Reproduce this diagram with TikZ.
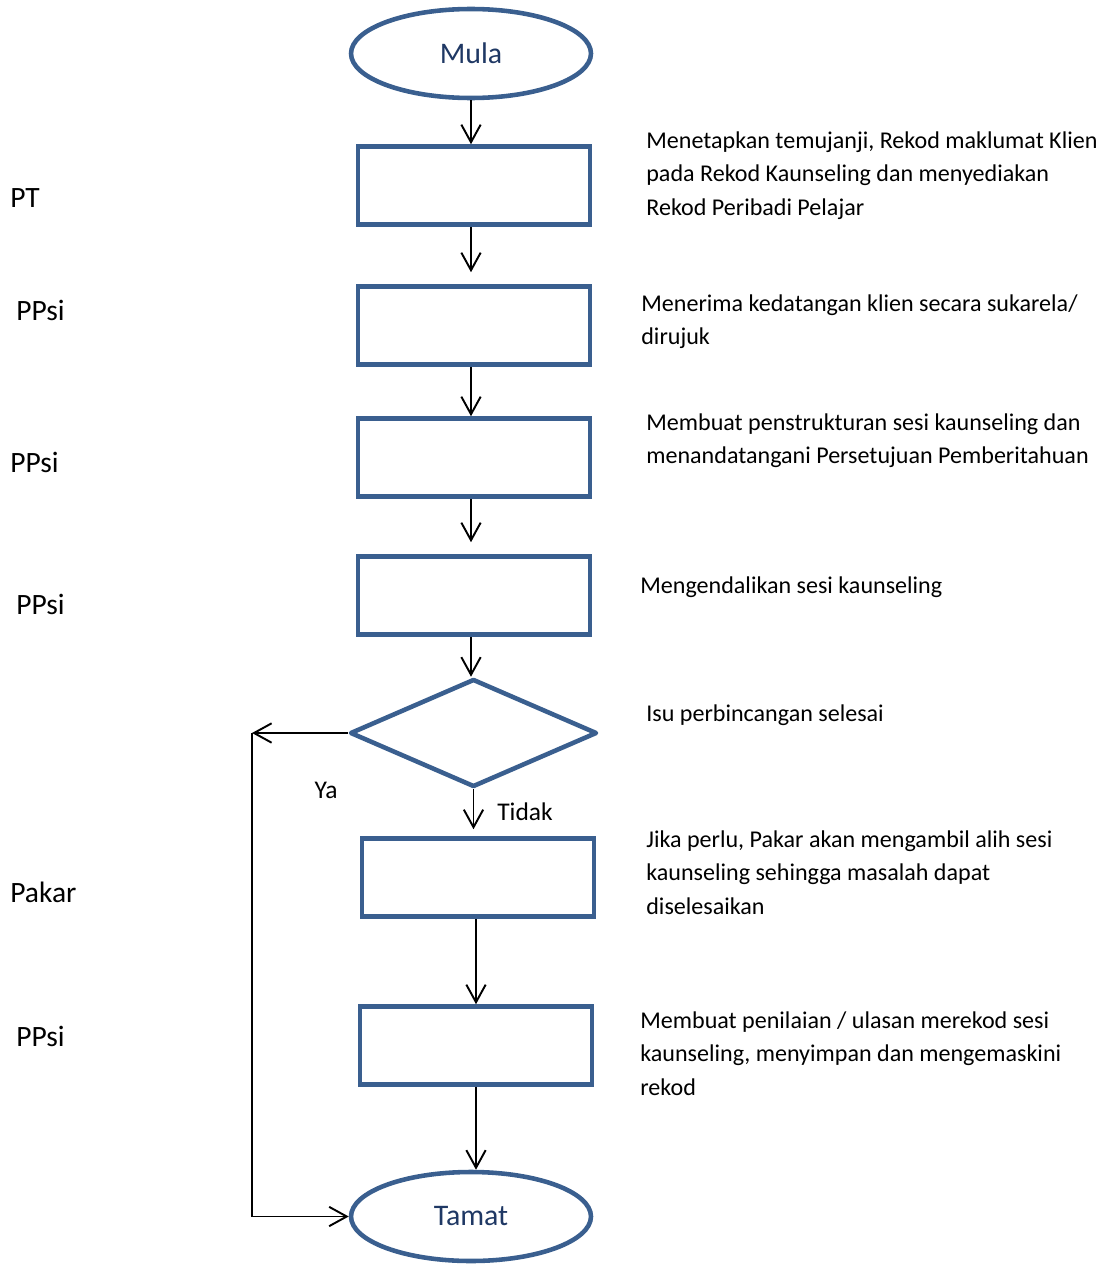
\documentclass[tikz,border=0pt]{standalone}
\usepackage{fontspec}
\setmainfont{Carlito}
\usetikzlibrary{shapes.geometric,arrows.meta,positioning}
\definecolor{boxblue}{HTML}{3A5F8F}
\definecolor{textnavy}{HTML}{1F3864}

\begin{document}
\begin{tikzpicture}[x=0.02cm,y=-0.02cm]
	\tikzstyle{term}=[ellipse, draw=boxblue, line width=2.6pt, minimum width=4.8cm, minimum height=1.78cm, inner sep=0pt, text=textnavy, font=\fontsize{17}{20}\selectfont]
	\tikzstyle{proc}=[rectangle, draw=boxblue, line width=2.6pt, minimum width=4.64cm, minimum height=1.56cm, inner sep=0pt]
	\tikzstyle{decide}=[diamond, draw=boxblue, line width=2.6pt, line join=round, minimum width=4.94cm, minimum height=2.16cm, inner sep=0pt]
	\tikzstyle{connect}=[-{Straight Barb[length=10pt,width=11pt]}, line width=1.1pt]
	% base of a multi-line desc is its last line
	\tikzstyle{desc}=[anchor=base west, align=left, inner sep=0pt, font=\fontsize{13.7}{19}\selectfont]
	\tikzstyle{who}=[anchor=west, inner sep=0pt, font=\fontsize{16.8}{20}\selectfont]
	\tikzstyle{branch}=[inner sep=0pt, font=\fontsize{14.5}{17}\selectfont]

	\useasboundingbox (0,0) rectangle (1105,1264);

	% flow
	\node[term] (mula) at (471,53.5) {Mula};
	\node[proc] (b1) at (474,185.5) {};
	\node[proc] (b2) at (474,325.5) {};
	\node[proc] (b3) at (474,457.5) {};
	\node[proc] (b4) at (474,595.5) {};
	\node[decide] (dec) at (473.5,733) {};
	\node[proc] (b5) at (478,877.5) {};
	\node[proc] (b6) at (476,1045.5) {};
	\node[term] (tamat) at (471,1216.5) {Tamat};
	\coordinate (yaturn) at (252,733);

	\path
	(mula.south) edge [connect] (mula.south |- b1.north)
	(b1.south -| mula.south) edge [connect, shorten >=0.24cm] (b2.north -| mula.south)
	(b2.south -| mula.south) edge [connect] (b3.north -| mula.south)
	(b3.south -| mula.south) edge [connect, shorten >=0.24cm] (b4.north -| mula.south)
	(b4.south -| mula.south) edge [connect] (dec.north -| mula.south)
	(dec.south) edge [connect, shorten >=0.14cm] (dec.south |- b5.north)
	(b6.north |- b5.south) edge [connect] (b6.north)
	(b6.south) edge [connect] (b6.south |- tamat.north);
	\draw[connect] (dec.west) -- (yaturn);
	\draw[connect] (yaturn) |- (tamat.west);

	\node[branch] (ya) at (326,790) {Ya};
	\node[branch] (tidak) at (525,812) {Tidak};

	% who does it
	\node[who] (w1) at (10,198) {PT};
	\node[who] (w2) at (16,310) {PPsi};
	\node[who] (w3) at (10,462) {PPsi};
	\node[who] (w4) at (16,604) {PPsi};
	\node[who] (w5) at (10,892) {Pakar};
	\node[who] (w6) at (16,1036) {PPsi};

	% what is done
	\node[desc] (d1) at (646,215) {Menetapkan temujanji, Rekod maklumat Klien\\pada Rekod Kaunseling dan menyediakan\\Rekod Peribadi Pelajar};
	\node[desc] (d2) at (641,344.5) {Menerima kedatangan klien secara sukarela/\\dirujuk};
	\node[desc] (d3) at (646,463.5) {Membuat penstrukturan sesi kaunseling dan\\menandatangani Persetujuan Pemberitahuan};
	\node[desc] (d4) at (640,593) {Mengendalikan sesi kaunseling};
	\node[desc] (d5) at (646,721) {Isu perbincangan selesai};
	\node[desc] (d6) at (646,914) {Jika perlu, Pakar akan mengambil alih sesi\\kaunseling sehingga masalah dapat\\diselesaikan};
	\node[desc] (d7) at (640,1095) {Membuat penilaian / ulasan merekod sesi\\kaunseling, menyimpan dan mengemaskini\\rekod};
\end{tikzpicture}
\end{document}
